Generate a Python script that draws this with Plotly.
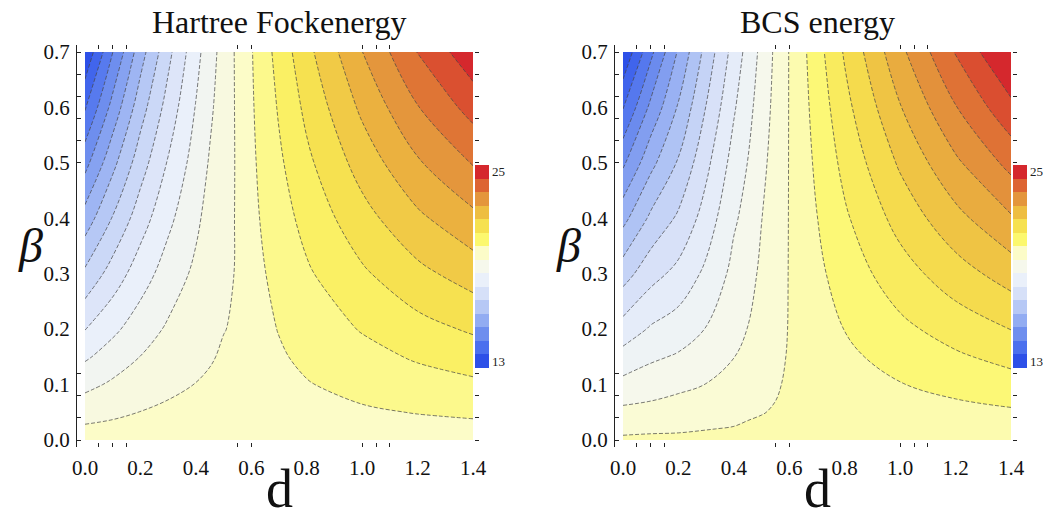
import plotly.graph_objects as go

# ---------------- data ----------------
D = [0.0, 0.1, 0.2, 0.3, 0.4, 0.45, 0.5, 0.55, 0.6, 0.65, 0.7, 0.8, 1.0, 1.2, 1.4]
BETA = [0.0, 0.02, 0.05, 0.1, 0.15, 0.2, 0.3, 0.4, 0.5, 0.6, 0.7]

# Hartree-Fock energy, one row per beta value (columns follow D)
HF = [
    [20.00, 20.00, 20.00, 20.00, 20.00, 20.00, 20.00, 20.00, 20.00, 20.00, 20.00, 20.00, 20.00, 20.00, 20.00],
    [19.79, 19.84, 19.88, 19.92, 19.93, 19.93, 19.95, 19.96, 20.01, 20.02, 20.03, 20.05, 20.09, 20.13, 20.16],
    [19.47, 19.59, 19.71, 19.79, 19.84, 19.85, 19.88, 19.91, 20.02, 20.05, 20.08, 20.14, 20.23, 20.32, 20.39],
    [18.94, 19.19, 19.41, 19.59, 19.71, 19.75, 19.79, 19.83, 20.04, 20.10, 20.16, 20.27, 20.47, 20.65, 20.79],
    [18.41, 18.78, 19.11, 19.38, 19.58, 19.67, 19.74, 19.78, 20.06, 20.15, 20.24, 20.41, 20.70, 20.97, 21.18],
    [17.88, 18.37, 18.81, 19.18, 19.46, 19.60, 19.69, 19.74, 20.08, 20.20, 20.32, 20.55, 20.94, 21.29, 21.58],
    [16.82, 17.56, 18.22, 18.77, 19.22, 19.46, 19.64, 19.72, 20.11, 20.29, 20.48, 20.82, 21.41, 21.94, 22.37],
    [15.76, 16.74, 17.62, 18.36, 18.98, 19.31, 19.55, 19.74, 20.15, 20.40, 20.64, 21.09, 21.88, 22.58, 23.15],
    [14.70, 15.93, 17.03, 17.95, 18.76, 19.15, 19.45, 19.76, 20.19, 20.50, 20.80, 21.37, 22.35, 23.23, 23.94],
    [13.64, 15.11, 16.44, 17.54, 18.53, 18.99, 19.40, 19.78, 20.23, 20.59, 20.96, 21.64, 22.82, 23.87, 24.73],
    [12.58, 14.29, 15.84, 17.13, 18.30, 18.84, 19.34, 19.81, 20.26, 20.69, 21.12, 21.92, 23.29, 24.52, 25.52],
]

# BCS energy, one row per beta value (columns follow D)
BCS = [
    [19.79, 19.79, 19.79, 19.79, 19.79, 19.79, 19.79, 19.79, 19.79, 19.79, 19.79, 19.79, 19.79, 19.79, 19.79],
    [19.58, 19.63, 19.65, 19.69, 19.72, 19.74, 19.75, 19.76, 19.78, 19.80, 19.81, 19.84, 19.88, 19.91, 19.95],
    [19.28, 19.32, 19.42, 19.49, 19.59, 19.66, 19.69, 19.72, 19.76, 19.82, 19.85, 19.91, 20.01, 20.10, 20.18],
    [18.76, 18.90, 19.02, 19.16, 19.36, 19.50, 19.58, 19.67, 19.74, 19.84, 19.90, 20.02, 20.23, 20.41, 20.58],
    [18.25, 18.51, 18.66, 18.88, 19.14, 19.32, 19.47, 19.61, 19.73, 19.87, 19.96, 20.14, 20.45, 20.72, 20.97],
    [17.73, 18.11, 18.32, 18.62, 18.99, 19.16, 19.38, 19.56, 19.72, 19.89, 20.01, 20.26, 20.67, 21.03, 21.36],
    [16.71, 17.30, 17.66, 18.17, 18.75, 18.94, 19.26, 19.48, 19.72, 19.94, 20.13, 20.49, 21.11, 21.66, 22.15],
    [15.68, 16.51, 17.04, 17.74, 18.53, 18.76, 19.14, 19.41, 19.72, 19.99, 20.24, 20.72, 21.55, 22.28, 22.94],
    [14.65, 15.69, 16.46, 17.36, 18.26, 18.61, 19.02, 19.35, 19.72, 20.04, 20.35, 20.95, 21.98, 22.90, 23.72],
    [13.62, 14.88, 15.91, 16.97, 17.99, 18.42, 18.88, 19.30, 19.72, 20.09, 20.46, 21.18, 22.42, 23.52, 24.51],
    [12.60, 14.06, 15.37, 16.59, 17.72, 18.23, 18.75, 19.25, 19.72, 20.14, 20.58, 21.41, 22.86, 24.14, 25.30],
]

HF_LEVELS = dict(start=13.1, end=25.1, size=0.6)
BCS_LEVELS = dict(start=13.1, end=24.65, size=0.55)

# legend colours, bottom (low) to top (high)
BAR_COLORS = ["#2D50E8", "#4B70EE", "#6E8EEE", "#92ACF2", "#B6C8F5", "#D6E0F8", "#EAF0FA",
              "#F6F8EC", "#FCFCC8", "#FCF86E", "#F6E150", "#EEBE41", "#E4963C", "#DD6432", "#D5282D"]
BAR_MIN, BAR_MAX = 12.571, 25.429
BAR_TICKS = [13, 25]

X_LABELS = [0.0, 0.2, 0.4, 0.6, 0.8, 1.0, 1.2, 1.4]
X_MARKS = [0.05, 0.1, 0.15, 0.55, 0.6, 1.0, 1.05, 1.1]
Y_LABELS = [0.0, 0.1, 0.2, 0.3, 0.4, 0.5, 0.6, 0.7]
Y_MARKS = [0.0, 0.04, 0.08, 0.12, 0.5, 0.54, 0.58, 0.62, 0.66, 0.7]

TITLES = ["Hartree Fockenergy", "BCS energy"]
XLABEL = "d"
YLABEL = "β"

# ---------------- figure ----------------
W, H = 1043, 518
SERIF = "Liberation Serif"
cont_scale = [[i / (len(BAR_COLORS) - 1), c] for i, c in enumerate(BAR_COLORS)]
step_scale = []
n = len(BAR_COLORS)
for i, c in enumerate(BAR_COLORS):
    step_scale.append([i / n, c])
    step_scale.append([(i + 1) / n, c])

# panel frames / data areas in pixels (left, right, top, bottom)
FRAMES = [(77, 479, 45, 447), (615, 1017, 45, 447)]
DATA_PX = [(85, 473, 52, 440), (623, 1011, 52, 440)]

fig = go.Figure()
panels = [(HF, HF_LEVELS), (BCS, BCS_LEVELS)]
for p, (Z, lev) in enumerate(panels):
    xa = "x" if p == 0 else "x2"
    ya = "y" if p == 0 else "y2"
    fig.add_trace(go.Contour(
        x=D, y=BETA, z=Z, xaxis=xa, yaxis=ya,
        colorscale=cont_scale, showscale=False,
        contours=dict(start=lev["start"], end=lev["end"], size=lev["size"],
                      coloring="fill", showlines=True),
        line=dict(color="rgba(70,70,70,0.8)", width=0.9, dash="4px,2px", smoothing=1.0),
        hoverinfo="skip",
    ))
    dl, dr, dt, dbm = DATA_PX[p]
    fig.add_trace(go.Scatter(
        x=[-5, -5], y=[-5, -5], xaxis=xa, yaxis=ya, mode="markers",
        marker=dict(color=BAR_TICKS, colorscale=step_scale, cmin=BAR_MIN, cmax=BAR_MAX,
                    showscale=True, size=1,
                    colorbar=dict(x=(dr + 2) / W, xanchor="left", y=1 - 266.5 / H, yanchor="middle",
                                  len=203, lenmode="pixels", thickness=14, thicknessmode="pixels",
                                  outlinewidth=0, ticks="", tickvals=BAR_TICKS,
                                  tickfont=dict(family=SERIF, size=13, color="#222"),
                                  xpad=0, ypad=0)),
        showlegend=False, hoverinfo="skip"))
    fig.add_trace(go.Scatter(x=[None], y=[None], xaxis="x%d" % (p + 3), yaxis="y%d" % (p + 3),
                             showlegend=False, hoverinfo="skip"))

for p in range(2):
    fl, fr, ft, fb = FRAMES[p]
    dl, dr, dt, dbm = DATA_PX[p]
    xs = 1.4 / (dr - dl)
    ys = 0.7 / (dbm - dt)
    xr = [-(dl - fl) * xs, 1.4 + (fr - dr) * xs]
    yr = [-(fb - dbm) * ys, 0.7 + (dt - ft) * ys]
    xdom = [fl / W, fr / W]
    ydom = [1 - fb / H, 1 - ft / H]
    xn = "xaxis" if p == 0 else "xaxis2"
    yn = "yaxis" if p == 0 else "yaxis2"
    xid = "x" if p == 0 else "x2"
    yid = "y" if p == 0 else "y2"
    fig.layout[xn] = dict(domain=xdom, range=xr, anchor=yid, showgrid=False, zeroline=False,
                          showline=False, tickvals=X_LABELS, ticktext=["%.1f" % v for v in X_LABELS],
                          ticks="outside", ticklen=2, tickcolor="rgba(0,0,0,0)", automargin=False,
                          tickfont=dict(family=SERIF, size=21, color="#111"))
    fig.layout[yn] = dict(domain=ydom, range=yr, anchor=xid, showgrid=False, zeroline=False,
                          showline=True, linecolor="#222", linewidth=1, automargin=False,
                          tickvals=Y_LABELS, ticktext=["%.1f" % v for v in Y_LABELS],
                          ticks="outside", ticklen=2, tickcolor="rgba(0,0,0,0)",
                          tickfont=dict(family=SERIF, size=21, color="#111"))
    fig.layout["xaxis%d" % (p + 3)] = dict(overlaying=xid, anchor="y%d" % (p + 3), range=xr,
                                           showgrid=False, zeroline=False, showline=False,
                                           tickvals=X_MARKS, ticks="inside", ticklen=4, automargin=False,
                                           tickcolor="#222", mirror="ticks", showticklabels=False)
    fig.layout["yaxis%d" % (p + 3)] = dict(overlaying=yid, anchor="x%d" % (p + 3), range=yr,
                                           showgrid=False, zeroline=False, showline=False,
                                           tickvals=Y_MARKS, ticks="inside", ticklen=4, automargin=False,
                                           tickcolor="#222", mirror="ticks", showticklabels=False)
    cx = (dl + dr) / 2 / W
    fig.add_annotation(text=TITLES[p], x=cx, y=1 - 22 / H, xref="paper", yref="paper",
                       xanchor="center", yanchor="middle",
                       showarrow=False, font=dict(family=SERIF, size=32, color="#111"))
    fig.add_annotation(text=XLABEL, x=cx, y=1 - 489 / H, xref="paper", yref="paper",
                       xanchor="center", yanchor="middle",
                       showarrow=False, font=dict(family=SERIF, size=54, color="#111"))
    fig.add_annotation(text="<i>" + YLABEL + "</i>", x=(fl - 47) / W, y=1 - 246 / H,
                       xref="paper", yref="paper", showarrow=False,
                       xanchor="center", yanchor="middle",
                       font=dict(family=SERIF, size=48, color="#111"))

fig.update_layout(width=W, height=H, margin=dict(l=0, r=0, t=0, b=0, pad=0, autoexpand=False),
                  paper_bgcolor="white", plot_bgcolor="white", showlegend=False)
fig.write_html("out.html",
               config={"displayModeBar": False, "staticPlot": True},
               post_script="document.body.style.margin='0px';document.body.style.overflow='hidden';")
